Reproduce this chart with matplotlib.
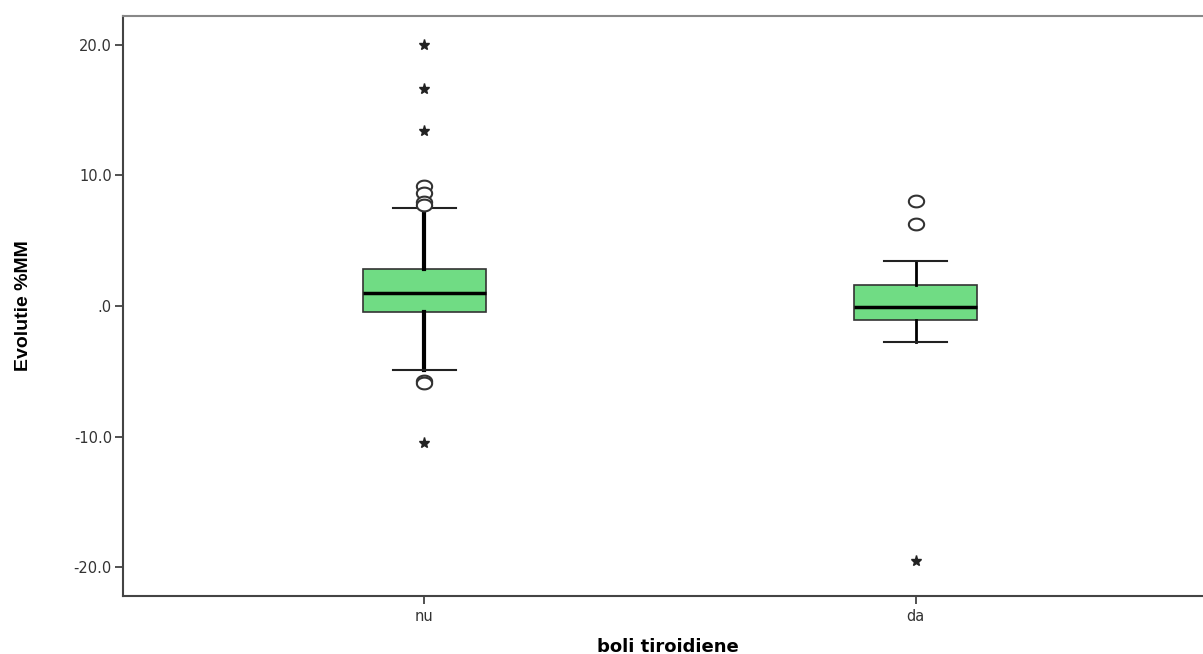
import numpy as np
import matplotlib
matplotlib.use("Agg")
import matplotlib.pyplot as plt
from matplotlib.path import Path

# ─── Data ──────────────────────────────────────────────────────────
groups   = ["nu", "da"]
medians  = [1.02, -0.08]
q1       = [-0.44, -1.07]
q3       = [2.84, 1.61]
whis_lo  = [-4.90, -2.73]
whis_hi  = [7.49, 3.42]
outliers = [[9.22, 8.63, 7.99, 7.72, -5.72, -5.92],   # circles
            [8.07, 6.28]]
extremes = [[20.0, 16.63, 13.36, -10.5],              # stars
            [-19.5]]
yticks      = [20, 10, 0, -10, -20]
ytick_names = ["20.0", "10.0", ".0", "-10.0", "-20.0"]
# ────────────────────────────────────────────────────────────────────

fig = plt.figure(figsize=(12.03, 6.54), dpi=100)
ax = fig.add_axes([123 / 1203, 58 / 654, 1094 / 1203, 580 / 654])

pos = np.arange(1, len(groups) + 1)
stats = [dict(med=m, q1=a, q3=b, whislo=lo, whishi=hi, fliers=[])
         for m, a, b, lo, hi in zip(medians, q1, q3, whis_lo, whis_hi)]

green = "#70DC84"
for i, s in enumerate(stats):
    lw_wh = 3.0 if i == 0 else 2.0
    ax.bxp([s], positions=[pos[i]], widths=0.25, patch_artist=True,
           boxprops=dict(facecolor=green, edgecolor="#333333", linewidth=1.2),
           medianprops=dict(color="black", linewidth=2.5),
           whiskerprops=dict(color="black", linewidth=lw_wh),
           capprops=dict(color="#222222", linewidth=1.5),
           capwidths=0.13)

# flattened ellipse marker like the SPSS circles
t = np.linspace(0, 2 * np.pi, 60)
ellipse = Path(np.column_stack([1.3 * np.cos(t), np.sin(t)]), closed=True)

for i in range(len(groups)):
    ax.plot([pos[i]] * len(outliers[i]), outliers[i], linestyle="none",
            marker=ellipse, markersize=11, markerfacecolor="white",
            markeredgecolor="#333333", markeredgewidth=1.5, zorder=4)
    ax.plot([pos[i]] * len(extremes[i]), extremes[i], linestyle="none",
            marker="*", markersize=8, color="#222222", zorder=4)

ax.set_xlim(0.386, 2.614)
ax.set_ylim(-22.2, 22.2)
ax.set_xticks(pos)
ax.set_xticklabels(groups)
ax.set_yticks(yticks)
ax.set_yticklabels(ytick_names)
ax.tick_params(axis="both", direction="out", length=6, width=1.2,
               color="#333333", labelcolor="#333333", labelsize=10.5)
ax.tick_params(axis="y", pad=2)

for side in ["left", "bottom"]:
    ax.spines[side].set_color("#444444")
    ax.spines[side].set_linewidth(1.5)
ax.spines["top"].set_color("#888888")
ax.spines["top"].set_linewidth(1.5)
ax.spines["right"].set_visible(False)

fig.text(23 / 1203, 1 - 306 / 654, "Evolutie %MM", rotation=90,
         ha="center", va="center", fontsize=14, fontweight="bold",
         family=["Liberation Sans", "DejaVu Sans"])
fig.text(668 / 1203, 1 - 652 / 654, "boli tiroidiene", ha="center",
         va="baseline", fontsize=13, fontweight="bold",
         family=["DejaVu Sans"])

fig.savefig("out.png", dpi=100)
